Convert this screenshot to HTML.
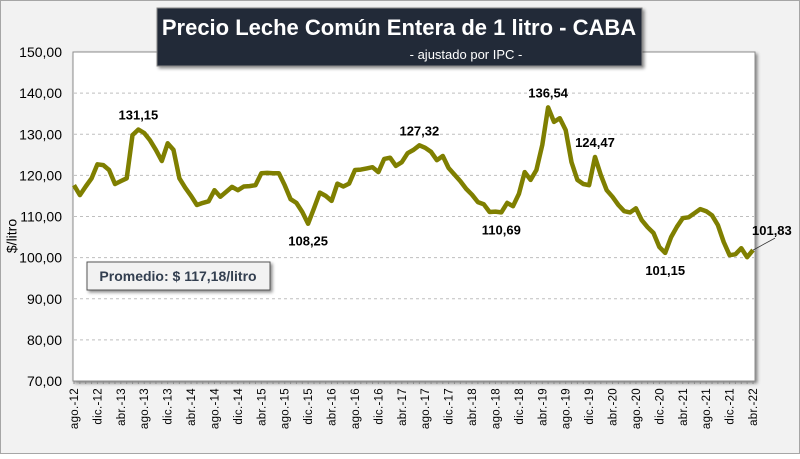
<!DOCTYPE html>
<html><head><meta charset="utf-8"><style>
body{margin:0;width:800px;height:454px;overflow:hidden;background:#fff;font-family:"Liberation Sans",sans-serif}
</style></head><body>
<svg id="chart" width="800" height="454" xmlns="http://www.w3.org/2000/svg" font-family="Liberation Sans, sans-serif">
<defs><filter id="sh" x="-10%" y="-10%" width="130%" height="130%"><feDropShadow dx="2" dy="2" stdDeviation="1.5" flood-color="#000" flood-opacity="0.45"/></filter></defs>
<rect x="0.5" y="0.5" width="799" height="453" fill="#f2f2f2" stroke="#a6a6a6"/>
<rect x="73" y="52" width="682" height="329" fill="#fff" stroke="#8c8c8c" filter="url(#sh)"/>
<g id="grid"></g><g id="yticks"></g><g id="xticks"></g>
<path id="line" fill="none" stroke="#7f7f00" stroke-width="4.5" stroke-linejoin="round"/>
<g id="annots"></g>
<text x="13" y="236" font-size="14" fill="#000" transform="rotate(-90 13 236)" text-anchor="middle" dominant-baseline="middle">$/litro</text>
<g>
<rect x="157" y="8" width="485" height="58" fill="#222b38" stroke="#888" filter="url(#sh)"/>
<text x="399" y="35" font-size="22" font-weight="bold" fill="#fff" text-anchor="middle">Precio Leche Común Entera de 1 litro - CABA</text>
<text x="466" y="59" font-size="13" fill="#fff" text-anchor="middle">- ajustado por IPC -</text>
</g>
<g>
<rect x="87" y="262" width="183" height="28" fill="#f2f2f2" stroke="#555" filter="url(#sh)"/>
<text x="178" y="281" font-size="14" font-weight="bold" fill="#333f50" text-anchor="middle">Promedio: $ 117,18/litro</text>
</g>
</svg>
<script>
const values=[117.6,115.2,117.3,119.3,122.7,122.5,121.3,117.9,118.6,119.3,129.8,131.15,130.3,128.5,126.2,123.5,127.8,126.2,119.3,117.0,115.0,112.8,113.3,113.7,116.4,114.8,116.0,117.2,116.4,117.3,117.4,117.6,120.5,120.6,120.5,120.5,117.6,114.2,113.3,111.1,108.25,112.0,115.8,115.0,113.8,118.0,117.3,118.0,121.3,121.4,121.7,122.0,120.8,124.0,124.3,122.3,123.2,125.4,126.2,127.32,126.7,125.7,123.7,124.7,121.8,120.2,118.6,116.7,115.3,113.5,113.0,111.1,111.2,111.0,113.3,112.5,115.5,120.8,118.9,121.3,127.4,136.54,133.0,133.9,131.0,123.2,118.9,117.9,117.6,124.47,120.1,116.4,114.8,112.8,111.3,111.0,112.0,109.1,107.4,106.0,102.6,101.15,105.0,107.5,109.6,109.8,110.8,111.8,111.3,110.3,107.9,103.8,100.6,100.8,102.3,100.1,101.83];
const xLabels=["ago.-12","dic.-12","abr.-13","ago.-13","dic.-13","abr.-14","ago.-14","dic.-14","abr.-15","ago.-15","dic.-15","abr.-16","ago.-16","dic.-16","abr.-17","ago.-17","dic.-17","abr.-18","ago.-18","dic.-18","abr.-19","ago.-19","dic.-19","abr.-20","ago.-20","dic.-20","abr.-21","ago.-21","dic.-21","abr.-22"];
const yTicks=[70,80,90,100,110,120,130,140,150];
const annIdx=[11,40,59,73,81,89,101,116];
const annText=["131,15","108,25","127,32","110,69","136,54","124,47","101,15","101,83"];
const annPos=["above","below","above","below","above","above","below","right"];
const NS="http://www.w3.org/2000/svg";
const X=i=>74+i*(679/116);
const Y=v=>381-(v-70)*(329/80);
function mk(t,a,p){const e=document.createElementNS(NS,t);for(const k in a)e.setAttribute(k,a[k]);p.appendChild(e);return e;}
const grid=document.getElementById('grid'),yt=document.getElementById('yticks'),xt=document.getElementById('xticks');
yTicks.forEach(v=>{
 if(v>70&&v<150){const g=mk('line',{x1:74,x2:754,y1:Y(v),y2:Y(v),stroke:'#bfbfbf','stroke-dasharray':'3,3'},grid);
 
 }
 const t=mk('text',{x:62,y:Y(v)+5,'font-size':14,'text-anchor':'end',fill:'#000'},yt);t.textContent=v.toFixed(2).replace('.',',');
 
 
});
for(let i=0;i<values.length;i++){const m=mk('line',{x1:X(i),x2:X(i),y1:381,y2:384,stroke:'#8c8c8c'},xt);
 
 }
xLabels.forEach((l,k)=>{const x=X(k*4)+4;const t=mk('text',{x:x,y:388,'font-size':11.5,'text-anchor':'end',fill:'#000','letter-spacing':'0.3',transform:`rotate(-90 ${x} 388)`},xt);t.textContent=l;
 
 });
document.getElementById('line').setAttribute('d',values.map((v,i)=>(i?'L':'M')+X(i).toFixed(1)+','+Y(v).toFixed(1)).join(''));
const an=document.getElementById('annots');
annIdx.forEach((idx,k)=>{const x=X(idx),y=Y(values[idx]);let tx=x,ty;
 if(annPos[k]==='above')ty=y-10;else if(annPos[k]==='below')ty=y+22;
 let anchor='middle';
 if(annPos[k]==='right'){
  const ln=mk('line',{x1:x,y1:y,x2:x+22,y2:y-12,stroke:'#333','stroke-width':0.8},an);
  
  
  tx=752;ty=y-15;anchor='start';}
 const t=mk('text',{x:tx,y:ty,'font-size':13,'font-weight':'bold','text-anchor':anchor,fill:'#000'},an);t.textContent=annText[k];
 
 });
</script>
</body></html>
